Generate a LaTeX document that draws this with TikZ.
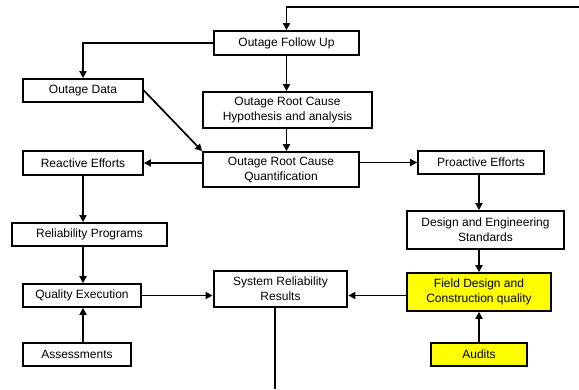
\documentclass[tikz,border=0pt]{standalone}
\usepackage{fontspec}
\setmainfont{Liberation Sans}
\usetikzlibrary{arrows.meta}
\definecolor{boxyellow}{RGB}{255,255,0}
\tikzset{
  box/.style={draw=black, line width=1.7pt, fill=white, rectangle, inner sep=0pt, align=center,
    font=\fontsize{12}{15}\selectfont},
  thickbox/.style={box, line width=2.8pt},
  yelbox/.style={box, fill=boxyellow},
  conn/.style={line width=1.7pt, -{Triangle[length=7pt,width=7pt]}},
  plain/.style={line width=1.7pt},
}
\begin{document}
\begin{tikzpicture}[x=1pt,y=-1pt]
\useasboundingbox (0,0) rectangle (579,390);
\node[box, minimum width=145pt, minimum height=24pt] (fu) at (286.5,43) {Outage Follow Up};
\node[box, minimum width=120pt, minimum height=23pt] (od) at (83,90.5) {Outage Data};
\node[box, minimum width=169pt, minimum height=36pt] (hyp) at (287.5,110) {Outage Root Cause\\Hypothesis and analysis};
\node[box, minimum width=156pt, minimum height=35pt] (quant) at (281,169.5) {Outage Root Cause\\Quantification};
\node[box, minimum width=120pt, minimum height=24pt] (re) at (83,163) {Reactive Efforts};
\node[box, minimum width=126pt, minimum height=23pt] (pe) at (481,162.5) {Proactive Efforts};
\node[box, minimum width=155pt, minimum height=23pt] (rp) at (89.5,234.5) {Reliability Programs};
\node[box, minimum width=118pt, minimum height=23pt] (qe) at (82,295.5) {Quality Execution};
\node[box, minimum width=108pt, minimum height=23pt] (as) at (77,354.5) {Assessments};
\node[thickbox, minimum width=133pt, minimum height=36pt] (srr) at (280.5,289) {System Reliability\\Results};
\node[box, minimum width=157pt, minimum height=38pt] (des) at (485.5,230) {Design and Engineering\\Standards};
\node[yelbox, minimum width=144pt, minimum height=38pt] (fd) at (479,292) {Field Design and\\Construction quality};
\node[yelbox, minimum width=96pt, minimum height=23pt] (au) at (479,354.5) {Audits};

\coordinate (tr) at (579,7);
\coordinate (bot) at (275,389);

\draw[conn] (tr) -- (tr -| fu.north) -- (fu.north);
\draw[conn] (fu.west) -| (od.north);
\draw[conn] (fu.south) -- (fu.south |- hyp.north);
\draw[conn] (hyp.south -| fu.south) -- (fu.south |- quant.north);
\draw[conn] (od.east) -- (quant.north west);
\draw[conn] (re.east -| quant.west) -- (re.east);
\draw[conn] (pe.west -| quant.east) -- (pe.west);
\draw[conn] (re.south) -- (re.south |- rp.north);
\draw[conn] (rp.south -| re.south) -- (re.south |- qe.north);
\draw[conn] (as.north -| re.south) -- (re.south |- qe.south);
\draw[conn] (qe.east) -- (qe.east -| srr.west);
\draw[conn] (fd.west |- qe.east) -- (qe.east -| srr.east);
\draw[conn] (pe.south -| fd.north) -- (fd.north |- des.north);
\draw[conn] (des.south -| fd.north) -- (fd.north);
\draw[conn] (au.north) -- (fd.south);
\draw[plain] (srr.south -| bot) -- (bot);
\end{tikzpicture}
\end{document}
